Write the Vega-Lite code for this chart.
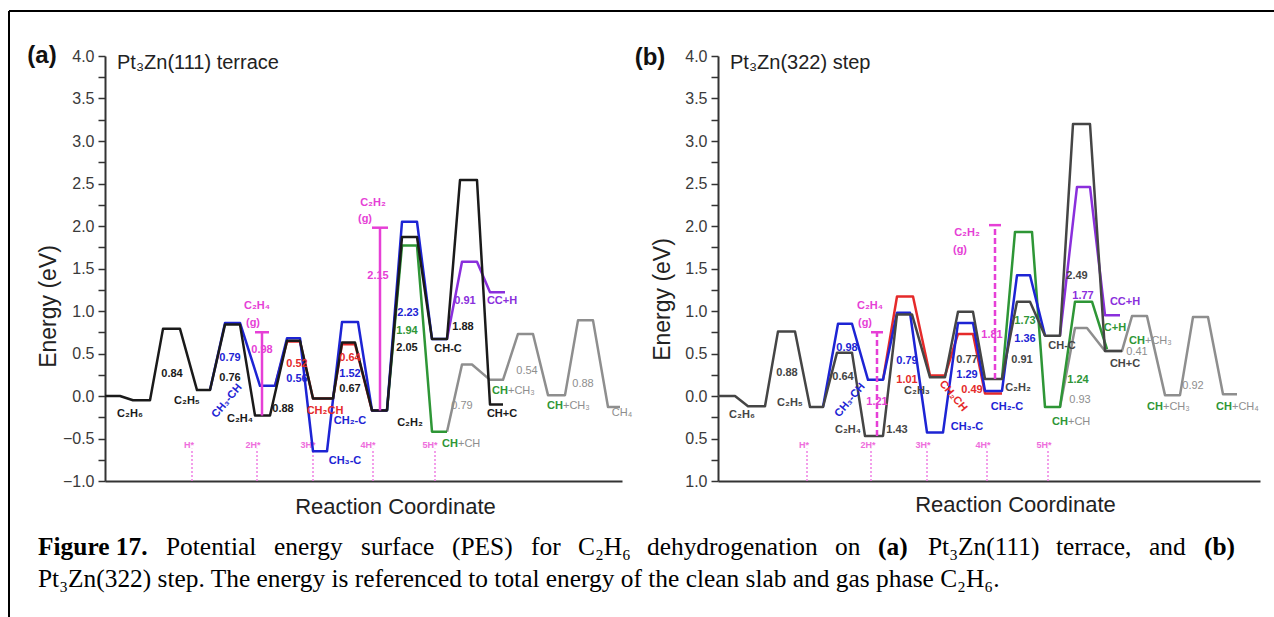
{
"$schema": "https://vega.github.io/schema/vega-lite/v6.json",
"background": "white",
"padding": {"left": 8, "top": 9, "right": 0, "bottom": 0},
"config": {
  "font": "Liberation Sans",
  "view": {"stroke": null},
  "axis": {"grid": false, "domainColor": "#333", "domainWidth": 2, "tickColor": "#333", "tickWidth": 1.5, "labelColor": "#3a3a3a", "labelFontSize": 16, "titleColor": "#222", "titleFontWeight": "normal"}
},
"datasets": {
  "frame": [{"x": -96, "x2": -96, "e": 4.53, "e2": -2.9}, {"x": -96, "x2": 1175, "e": 4.53, "e2": 4.53}],
  "a_lines": [
    {"s":"gray","x":342,"e":-0.42},{"s":"gray","x":357,"e":0.37},{"s":"gray","x":367,"e":0.37},{"s":"gray","x":385,"e":0.19},{"s":"gray","x":398,"e":0.19},{"s":"gray","x":413,"e":0.73},{"s":"gray","x":428,"e":0.73},{"s":"gray","x":443,"e":0.01},{"s":"gray","x":460,"e":0.01},{"s":"gray","x":473,"e":0.89},{"s":"gray","x":488,"e":0.89},{"s":"gray","x":503,"e":-0.13},{"s":"gray","x":515,"e":-0.13},
    {"s":"green","x":282,"e":-0.17},{"s":"green","x":297,"e":1.77},{"s":"green","x":312,"e":1.77},{"s":"green","x":327,"e":-0.42},{"s":"green","x":342,"e":-0.42},
    {"s":"purple","x":342,"e":0.67},{"s":"purple","x":357,"e":1.58},{"s":"purple","x":372,"e":1.58},{"s":"purple","x":385,"e":1.22},{"s":"purple","x":400,"e":1.22},
    {"s":"red","x":170,"e":0.12},{"s":"red","x":182,"e":0.64},{"s":"red","x":195,"e":0.64},{"s":"red","x":208,"e":-0.03},{"s":"red","x":228,"e":-0.03},{"s":"red","x":237,"e":0.61},{"s":"red","x":250,"e":0.61},{"s":"red","x":267,"e":-0.17},{"s":"red","x":282,"e":-0.17},
    {"s":"blue","x":105,"e":0.07},{"s":"blue","x":120,"e":0.86},{"s":"blue","x":135,"e":0.86},{"s":"blue","x":155,"e":0.12},{"s":"blue","x":170,"e":0.12},{"s":"blue","x":182,"e":0.68},{"s":"blue","x":195,"e":0.68},{"s":"blue","x":208,"e":-0.65},{"s":"blue","x":222,"e":-0.65},{"s":"blue","x":237,"e":0.87},{"s":"blue","x":253,"e":0.87},{"s":"blue","x":267,"e":-0.17},{"s":"blue","x":282,"e":-0.17},{"s":"blue","x":297,"e":2.05},{"s":"blue","x":312,"e":2.05},{"s":"blue","x":327,"e":0.67},{"s":"blue","x":342,"e":0.67},
    {"s":"black","x":0,"e":0},{"s":"black","x":15,"e":0},{"s":"black","x":28,"e":-0.05},{"s":"black","x":45,"e":-0.05},{"s":"black","x":58,"e":0.79},{"s":"black","x":75,"e":0.79},{"s":"black","x":92,"e":0.07},{"s":"black","x":105,"e":0.07},{"s":"black","x":120,"e":0.84},{"s":"black","x":135,"e":0.84},{"s":"black","x":150,"e":-0.23},{"s":"black","x":165,"e":-0.23},{"s":"black","x":182,"e":0.65},{"s":"black","x":195,"e":0.65},{"s":"black","x":208,"e":-0.03},{"s":"black","x":228,"e":-0.03},{"s":"black","x":237,"e":0.63},{"s":"black","x":250,"e":0.63},{"s":"black","x":267,"e":-0.17},{"s":"black","x":282,"e":-0.17},{"s":"black","x":297,"e":1.87},{"s":"black","x":312,"e":1.87},{"s":"black","x":327,"e":0.67},{"s":"black","x":342,"e":0.67},{"s":"black","x":355,"e":2.54},{"s":"black","x":372,"e":2.54},{"s":"black","x":385,"e":-0.1},{"s":"black","x":398,"e":-0.1}
  ],
  "a_bar": [{"x":157,"x2":157,"e":-0.23,"e2":0.75},{"x":150,"x2":164,"e":0.75,"e2":0.75},{"x":275,"x2":275,"e":-0.17,"e2":1.98},{"x":267,"x2":283,"e":1.98,"e2":1.98}],
  "a_hs": [{"x":87,"x2":87,"e":-1,"e2":-0.62},{"x":152,"x2":152,"e":-1,"e2":-0.62},{"x":208,"x2":208,"e":-1,"e2":-0.62},{"x":268,"x2":268,"e":-1,"e2":-0.62},{"x":330,"x2":330,"e":-1,"e2":-0.62}],
  "a_hl": [{"t":"H*","x":84,"e":-0.58},{"t":"2H*","x":148,"e":-0.58},{"t":"3H*","x":203,"e":-0.58},{"t":"4H*","x":263,"e":-0.58},{"t":"5H*","x":325,"e":-0.58}],
  "a_lab": [
    {"t":"C₂H₆","s":"black","x":25,"e":-0.21},{"t":"0.84","s":"black","x":67,"e":0.26},{"t":"C₂H₅","s":"black","x":82,"e":-0.06},
    {"t":"0.79","s":"blue","x":125,"e":0.45},{"t":"0.76","s":"black","x":125,"e":0.21},{"t":"C₂H₄","s":"black","x":135,"e":-0.27},
    {"t":"0.98","s":"magenta","x":157,"e":0.54},{"t":"C₂H₄","s":"magenta","x":152,"e":1.06},{"t":"(g)","s":"magenta","x":148,"e":0.86},
    {"t":"0.88","s":"black","x":178,"e":-0.15},{"t":"0.52","s":"red","x":192,"e":0.38},{"t":"0.56","s":"blue","x":192,"e":0.2},
    {"t":"CH₂CH","s":"red","x":220,"e":-0.18},{"t":"0.64","s":"red","x":245,"e":0.45},{"t":"1.52","s":"blue","x":245,"e":0.26},{"t":"0.67","s":"black","x":245,"e":0.08},
    {"t":"CH₂-C","s":"blue","x":245,"e":-0.29},{"t":"CH₃-C","s":"blue","x":240,"e":-0.76},
    {"t":"C₂H₂","s":"magenta","x":268,"e":2.27},{"t":"(g)","s":"magenta","x":260,"e":2.08},{"t":"2.15","s":"magenta","x":273,"e":1.41},
    {"t":"2.23","s":"blue","x":303,"e":0.98},{"t":"1.94","s":"green","x":302,"e":0.76},{"t":"2.05","s":"black","x":302,"e":0.56},{"t":"C₂H₂","s":"black","x":305,"e":-0.32},
    {"t":"1.88","s":"black","x":358,"e":0.81},{"t":"CH-C","s":"black","x":343,"e":0.55},{"t":"0.91","s":"purple","x":360,"e":1.12},{"t":"CC+H","s":"purple","x":397,"e":1.12},
    {"t":"CH+C","s":"black","x":397,"e":-0.21}
  ],
  "a_lr": [{"t":"CH","x":353,"e":-0.56},{"t":"CH","x":403,"e":0.06},{"t":"CH","x":458,"e":-0.12}],
  "a_ll": [{"t":"+CH","x":353,"e":-0.56},{"t":"+CH₃","x":403,"e":0.06},{"t":"+CH₃","x":458,"e":-0.12}],
  "a_lg": [{"t":"0.79","x":357,"e":-0.12},{"t":"0.54","x":422,"e":0.29},{"t":"0.88","x":478,"e":0.14},{"t":"CH₄","x":517,"e":-0.2}],
  "a_rot": [{"t":"CH₃-CH","s":"blue","x":122,"e":-0.06}],
  "a_head": [{"t":"(a)","x":-63,"e":4.0}],
  "a_sub": [{"t":"Pt₃Zn(111) terrace","x":12,"e":3.92}],
  "cap_b": [{"t":"Figure 17.","x":-67,"e":-1.776},{"t":"(a)","x":773,"e":-1.776},{"t":"(b)","x":1099,"e":-1.776}],
  "cap_n": [
    {"t":"Potential","x":61,"e":-1.776},{"t":"energy","x":169,"e":-1.776},{"t":"surface","x":256,"e":-1.776},{"t":"(PES)","x":347,"e":-1.776},{"t":"for","x":426,"e":-1.776},{"t":"C₂H₆","x":473,"e":-1.776},{"t":"dehydrogenation","x":542,"e":-1.776},{"t":"on","x":730,"e":-1.776},
    {"t":"Pt₃Zn(111)","x":823,"e":-1.776},{"t":"terrace,","x":951,"e":-1.776},{"t":"and","x":1044,"e":-1.776},
    {"t":"Pt₃Zn(322) step. The energy is referenced to total energy of the clean slab and gas phase C₂H₆.","x":-67,"e":-2.153}
  ],
  "b_lines": [
    {"s":"gray","x":342,"e":-0.13},{"s":"gray","x":357,"e":0.8},{"s":"gray","x":369,"e":0.8},{"s":"gray","x":387,"e":0.53},{"s":"gray","x":404,"e":0.53},{"s":"gray","x":414,"e":0.94},{"s":"gray","x":429,"e":0.94},{"s":"gray","x":447,"e":0.01},{"s":"gray","x":462,"e":0.01},{"s":"gray","x":475,"e":0.93},{"s":"gray","x":490,"e":0.93},{"s":"gray","x":505,"e":0.02},{"s":"gray","x":519,"e":0.02},
    {"s":"green","x":284,"e":0.2},{"s":"green","x":297,"e":1.93},{"s":"green","x":314,"e":1.93},{"s":"green","x":327,"e":-0.13},{"s":"green","x":342,"e":-0.13},{"s":"green","x":357,"e":1.11},{"s":"green","x":374,"e":1.11},{"s":"green","x":389,"e":0.55},
    {"s":"purple","x":342,"e":0.71},{"s":"purple","x":359,"e":2.46},{"s":"purple","x":372,"e":2.46},{"s":"purple","x":387,"e":0.95},{"s":"purple","x":402,"e":0.95},
    {"s":"red","x":165,"e":0.19},{"s":"red","x":179,"e":1.17},{"s":"red","x":195,"e":1.17},{"s":"red","x":212,"e":0.24},{"s":"red","x":227,"e":0.24},{"s":"red","x":240,"e":0.73},{"s":"red","x":255,"e":0.73},{"s":"red","x":267,"e":0.03},{"s":"red","x":284,"e":0.03},
    {"s":"blue","x":105,"e":-0.13},{"s":"blue","x":120,"e":0.85},{"s":"blue","x":134,"e":0.85},{"s":"blue","x":150,"e":0.19},{"s":"blue","x":165,"e":0.19},{"s":"blue","x":179,"e":0.98},{"s":"blue","x":192,"e":0.98},{"s":"blue","x":209,"e":-0.43},{"s":"blue","x":225,"e":-0.43},{"s":"blue","x":240,"e":0.86},{"s":"blue","x":255,"e":0.86},{"s":"blue","x":267,"e":0.06},{"s":"blue","x":284,"e":0.06},{"s":"blue","x":299,"e":1.42},{"s":"blue","x":312,"e":1.42},{"s":"blue","x":327,"e":0.71},
    {"s":"dark","x":0,"e":0},{"s":"dark","x":17,"e":0},{"s":"dark","x":30,"e":-0.12},{"s":"dark","x":47,"e":-0.12},{"s":"dark","x":60,"e":0.76},{"s":"dark","x":77,"e":0.76},{"s":"dark","x":92,"e":-0.13},{"s":"dark","x":105,"e":-0.13},{"s":"dark","x":119,"e":0.51},{"s":"dark","x":134,"e":0.51},{"s":"dark","x":147,"e":-0.47},{"s":"dark","x":165,"e":-0.47},{"s":"dark","x":179,"e":0.96},{"s":"dark","x":194,"e":0.96},{"s":"dark","x":212,"e":0.22},{"s":"dark","x":227,"e":0.22},{"s":"dark","x":240,"e":0.99},{"s":"dark","x":255,"e":0.99},{"s":"dark","x":267,"e":0.2},{"s":"dark","x":284,"e":0.2},{"s":"dark","x":299,"e":1.11},{"s":"dark","x":312,"e":1.11},{"s":"dark","x":327,"e":0.71},{"s":"dark","x":342,"e":0.71},{"s":"dark","x":355,"e":3.2},{"s":"dark","x":372,"e":3.2},{"s":"dark","x":387,"e":0.53},{"s":"dark","x":404,"e":0.53}
  ],
  "b_bar": [{"x":159,"x2":159,"e":-0.47,"e2":0.75},{"x":277,"x2":277,"e":0.2,"e2":2.01}],
  "b_cap": [{"x":153,"x2":165,"e":0.75,"e2":0.75},{"x":271,"x2":283,"e":2.01,"e2":2.01}],
  "b_hs": [{"x":89,"x2":89,"e":-1,"e2":-0.62},{"x":153,"x2":153,"e":-1,"e2":-0.62},{"x":209,"x2":209,"e":-1,"e2":-0.62},{"x":269,"x2":269,"e":-1,"e2":-0.62},{"x":330,"x2":330,"e":-1,"e2":-0.62}],
  "b_hl": [{"t":"H*","x":86,"e":-0.58},{"t":"2H*","x":150,"e":-0.58},{"t":"3H*","x":205,"e":-0.58},{"t":"4H*","x":265,"e":-0.58},{"t":"5H*","x":326,"e":-0.58}],
  "b_lab": [
    {"t":"C₂H₆","s":"dark","x":24,"e":-0.22},{"t":"0.88","s":"dark","x":69,"e":0.27},{"t":"C₂H₅","s":"dark","x":72,"e":-0.08},
    {"t":"0.98","s":"blue","x":129,"e":0.56},{"t":"0.64","s":"dark","x":125,"e":0.22},{"t":"C₂H₄","s":"dark","x":130,"e":-0.4},
    {"t":"C₂H₄","s":"magenta","x":152,"e":1.06},{"t":"(g)","s":"magenta","x":147,"e":0.86},{"t":"1.21","s":"magenta","x":159,"e":-0.07},
    {"t":"1.43","s":"dark","x":179,"e":-0.4},{"t":"0.79","s":"blue","x":189,"e":0.41},{"t":"1.01","s":"red","x":189,"e":0.19},{"t":"C₂H₃","s":"dark","x":199,"e":0.06},
    {"t":"0.77","s":"dark","x":249,"e":0.42},{"t":"1.29","s":"blue","x":249,"e":0.25},{"t":"0.49","s":"red","x":254,"e":0.07},
    {"t":"CH₃-C","s":"blue","x":249,"e":-0.36},{"t":"CH₂-C","s":"blue","x":289,"e":-0.13},
    {"t":"C₂H₂","s":"magenta","x":249,"e":1.92},{"t":"(g)","s":"magenta","x":242,"e":1.72},{"t":"1.81","s":"magenta","x":274,"e":0.72},
    {"t":"C₂H₂","s":"dark","x":300,"e":0.09},{"t":"1.73","s":"green","x":307,"e":0.88},{"t":"1.36","s":"blue","x":307,"e":0.67},{"t":"0.91","s":"dark","x":304,"e":0.42},
    {"t":"2.49","s":"dark","x":359,"e":1.41},{"t":"1.77","s":"purple","x":365,"e":1.18},{"t":"CC+H","s":"purple","x":407,"e":1.11},
    {"t":"CH-C","s":"dark","x":344,"e":0.59},{"t":"C+H","s":"green","x":397,"e":0.8},{"t":"1.24","s":"green","x":360,"e":0.19},{"t":"CH+C","s":"dark","x":407,"e":0.38}
  ],
  "b_lr": [{"t":"CH","x":350,"e":-0.31},{"t":"CH","x":427,"e":0.65},{"t":"CH","x":445,"e":-0.13},{"t":"CH","x":514,"e":-0.13}],
  "b_ll": [{"t":"+CH","x":350,"e":-0.31},{"t":"+CH₃","x":427,"e":0.65},{"t":"+CH₃","x":445,"e":-0.13},{"t":"+CH₄","x":514,"e":-0.13}],
  "b_lg": [{"t":"0.93","x":362,"e":-0.05},{"t":"0.41","x":419,"e":0.52},{"t":"0.92","x":475,"e":0.12}],
  "b_rot1": [{"t":"CH₃-CH","s":"blue","x":132,"e":-0.05}],
  "b_rot2": [{"t":"CH₂CH","s":"red","x":235,"e":0.0}],
  "b_head": [{"t":"(b)","x":-68,"e":3.98}],
  "b_sub": [{"t":"Pt₃Zn(322) step","x":12,"e":3.92}]
},
"spacing": 96,
"bounds": "flush",
"resolve": {"scale": {"x": "independent", "y": "independent"}},
"hconcat": [
  {
    "width": 517, "height": 425,
    "encoding": {
      "x": {"field": "x", "type": "quantitative", "scale": {"domain": [0, 517], "nice": false, "zero": false},
            "axis": {"title": "Reaction Coordinate", "ticks": false, "labels": false, "titleFontSize": 22, "titleX": 290, "titleY": 25, "titleBaseline": "middle", "titleAlign": "center"}},
      "y": {"field": "e", "type": "quantitative", "scale": {"domain": [-1, 4], "nice": false, "zero": false},
            "axis": {"values": [-1,-0.75,-0.5,-0.25,0,0.25,0.5,0.75,1,1.25,1.5,1.75,2,2.25,2.5,2.75,3,3.25,3.5,3.75,4], "labelExpr": "datum.value % 0.5 == 0 ? format(datum.value, '.1f') : ''", "tickSize": 7, "labelPadding": 4, "title": "Energy (eV)", "titleFontSize": 23, "titleX": -57, "titleY": 250, "titleBaseline": "middle", "titleAlign": "center", "titleAngle": -90}}
    },
    "layer": [
      {"data": {"name": "frame"}, "mark": {"type": "rule", "color": "#000", "strokeWidth": 2}, "encoding": {"x2": {"field": "x2"}, "y2": {"field": "e2"}}},
      {"data": {"name": "a_hs"}, "mark": {"type": "rule", "color": "#f07fe4", "strokeWidth": 1.5, "strokeDash": [2, 2]}, "encoding": {"x2": {"field": "x2"}, "y2": {"field": "e2"}}},
      {"data": {"name": "a_hl"}, "mark": {"type": "text", "color": "#ee6ddc", "fontSize": 9, "fontWeight": "bold"}, "encoding": {"text": {"field": "t"}}},
      {"data": {"name": "a_lines"}, "mark": {"type": "line", "strokeWidth": 2.5, "strokeJoin": "round"},
       "encoding": {"color": {"field": "s", "type": "nominal", "legend": null, "scale": {"domain": ["black","dark","blue","red","green","purple","gray","magenta"], "range": ["#1a1a1a","#454545","#1d24d4","#e52a2a","#2e9636","#8a2fdc","#8e8e8e","#e63fd6"]}}}},
      {"data": {"name": "a_bar"}, "mark": {"type": "rule", "color": "#e63fd6", "strokeWidth": 2.5}, "encoding": {"x2": {"field": "x2"}, "y2": {"field": "e2"}}},
      {"data": {"name": "a_lab"}, "mark": {"type": "text", "fontSize": 11, "fontWeight": "bold"}, "encoding": {"text": {"field": "t"}, "color": {"field": "s", "type": "nominal", "legend": null}}},
      {"data": {"name": "a_lr"}, "mark": {"type": "text", "fontSize": 11, "fontWeight": "bold", "align": "right", "color": "#2e9636"}, "encoding": {"text": {"field": "t"}}},
      {"data": {"name": "a_ll"}, "mark": {"type": "text", "fontSize": 11, "align": "left", "color": "#8e8e8e"}, "encoding": {"text": {"field": "t"}}},
      {"data": {"name": "a_lg"}, "mark": {"type": "text", "fontSize": 11, "color": "#8e8e8e"}, "encoding": {"text": {"field": "t"}}},
      {"data": {"name": "a_rot"}, "mark": {"type": "text", "fontSize": 11, "fontWeight": "bold", "angle": 310}, "encoding": {"text": {"field": "t"}, "color": {"field": "s", "type": "nominal", "legend": null}}},
      {"data": {"name": "a_head"}, "mark": {"type": "text", "fontSize": 24, "fontWeight": "bold", "color": "#111"}, "encoding": {"text": {"field": "t"}}},
      {"data": {"name": "a_sub"}, "mark": {"type": "text", "fontSize": 20, "align": "left", "color": "#222"}, "encoding": {"text": {"field": "t"}}},
      {"data": {"name": "cap_b"}, "mark": {"type": "text", "font": "Liberation Serif", "fontSize": 25.4, "fontWeight": "bold", "align": "left", "color": "#000"}, "encoding": {"text": {"field": "t"}}},
      {"data": {"name": "cap_n"}, "mark": {"type": "text", "font": "Liberation Serif", "fontSize": 25.4, "align": "left", "color": "#000"}, "encoding": {"text": {"field": "t"}}}
    ]
  },
  {
    "width": 542, "height": 425,
    "encoding": {
      "x": {"field": "x", "type": "quantitative", "scale": {"domain": [0, 542], "nice": false, "zero": false},
            "axis": {"title": "Reaction Coordinate", "ticks": false, "labels": false, "titleFontSize": 22, "titleX": 297, "titleY": 23, "titleBaseline": "middle", "titleAlign": "center"}},
      "y": {"field": "e", "type": "quantitative", "scale": {"domain": [-1, 4], "nice": false, "zero": false},
            "axis": {"values": [-1,-0.75,-0.5,-0.25,0,0.25,0.5,0.75,1,1.25,1.5,1.75,2,2.25,2.5,2.75,3,3.25,3.5,3.75,4], "labelExpr": "datum.value % 0.5 == 0 ? format(abs(datum.value), '.1f') : ''", "tickSize": 7, "labelPadding": 4, "title": "Energy (eV)", "titleFontSize": 23, "titleX": -56, "titleY": 243, "titleBaseline": "middle", "titleAlign": "center", "titleAngle": -90}}
    },
    "layer": [
      {"data": {"name": "b_hs"}, "mark": {"type": "rule", "color": "#f07fe4", "strokeWidth": 1.5, "strokeDash": [2, 2]}, "encoding": {"x2": {"field": "x2"}, "y2": {"field": "e2"}}},
      {"data": {"name": "b_hl"}, "mark": {"type": "text", "color": "#ee6ddc", "fontSize": 9, "fontWeight": "bold"}, "encoding": {"text": {"field": "t"}}},
      {"data": {"name": "b_lines"}, "mark": {"type": "line", "strokeWidth": 2.5, "strokeJoin": "round"},
       "encoding": {"color": {"field": "s", "type": "nominal", "legend": null, "scale": {"domain": ["black","dark","blue","red","green","purple","gray","magenta"], "range": ["#1a1a1a","#454545","#1d24d4","#e52a2a","#2e9636","#8a2fdc","#8e8e8e","#e63fd6"]}}}},
      {"data": {"name": "b_bar"}, "mark": {"type": "rule", "color": "#e63fd6", "strokeWidth": 2.5, "strokeDash": [6, 3]}, "encoding": {"x2": {"field": "x2"}, "y2": {"field": "e2"}}},
      {"data": {"name": "b_cap"}, "mark": {"type": "rule", "color": "#e63fd6", "strokeWidth": 2.5}, "encoding": {"x2": {"field": "x2"}, "y2": {"field": "e2"}}},
      {"data": {"name": "b_lab"}, "mark": {"type": "text", "fontSize": 11, "fontWeight": "bold"}, "encoding": {"text": {"field": "t"}, "color": {"field": "s", "type": "nominal", "legend": null}}},
      {"data": {"name": "b_lr"}, "mark": {"type": "text", "fontSize": 11, "fontWeight": "bold", "align": "right", "color": "#2e9636"}, "encoding": {"text": {"field": "t"}}},
      {"data": {"name": "b_ll"}, "mark": {"type": "text", "fontSize": 11, "align": "left", "color": "#8e8e8e"}, "encoding": {"text": {"field": "t"}}},
      {"data": {"name": "b_lg"}, "mark": {"type": "text", "fontSize": 11, "color": "#8e8e8e"}, "encoding": {"text": {"field": "t"}}},
      {"data": {"name": "b_rot1"}, "mark": {"type": "text", "fontSize": 11, "fontWeight": "bold", "angle": 310}, "encoding": {"text": {"field": "t"}, "color": {"field": "s", "type": "nominal", "legend": null}}},
      {"data": {"name": "b_rot2"}, "mark": {"type": "text", "fontSize": 11, "fontWeight": "bold", "angle": 50}, "encoding": {"text": {"field": "t"}, "color": {"field": "s", "type": "nominal", "legend": null}}},
      {"data": {"name": "b_head"}, "mark": {"type": "text", "fontSize": 24, "fontWeight": "bold", "color": "#111"}, "encoding": {"text": {"field": "t"}}},
      {"data": {"name": "b_sub"}, "mark": {"type": "text", "fontSize": 20, "align": "left", "color": "#222"}, "encoding": {"text": {"field": "t"}}}
    ]
  }
]
}
